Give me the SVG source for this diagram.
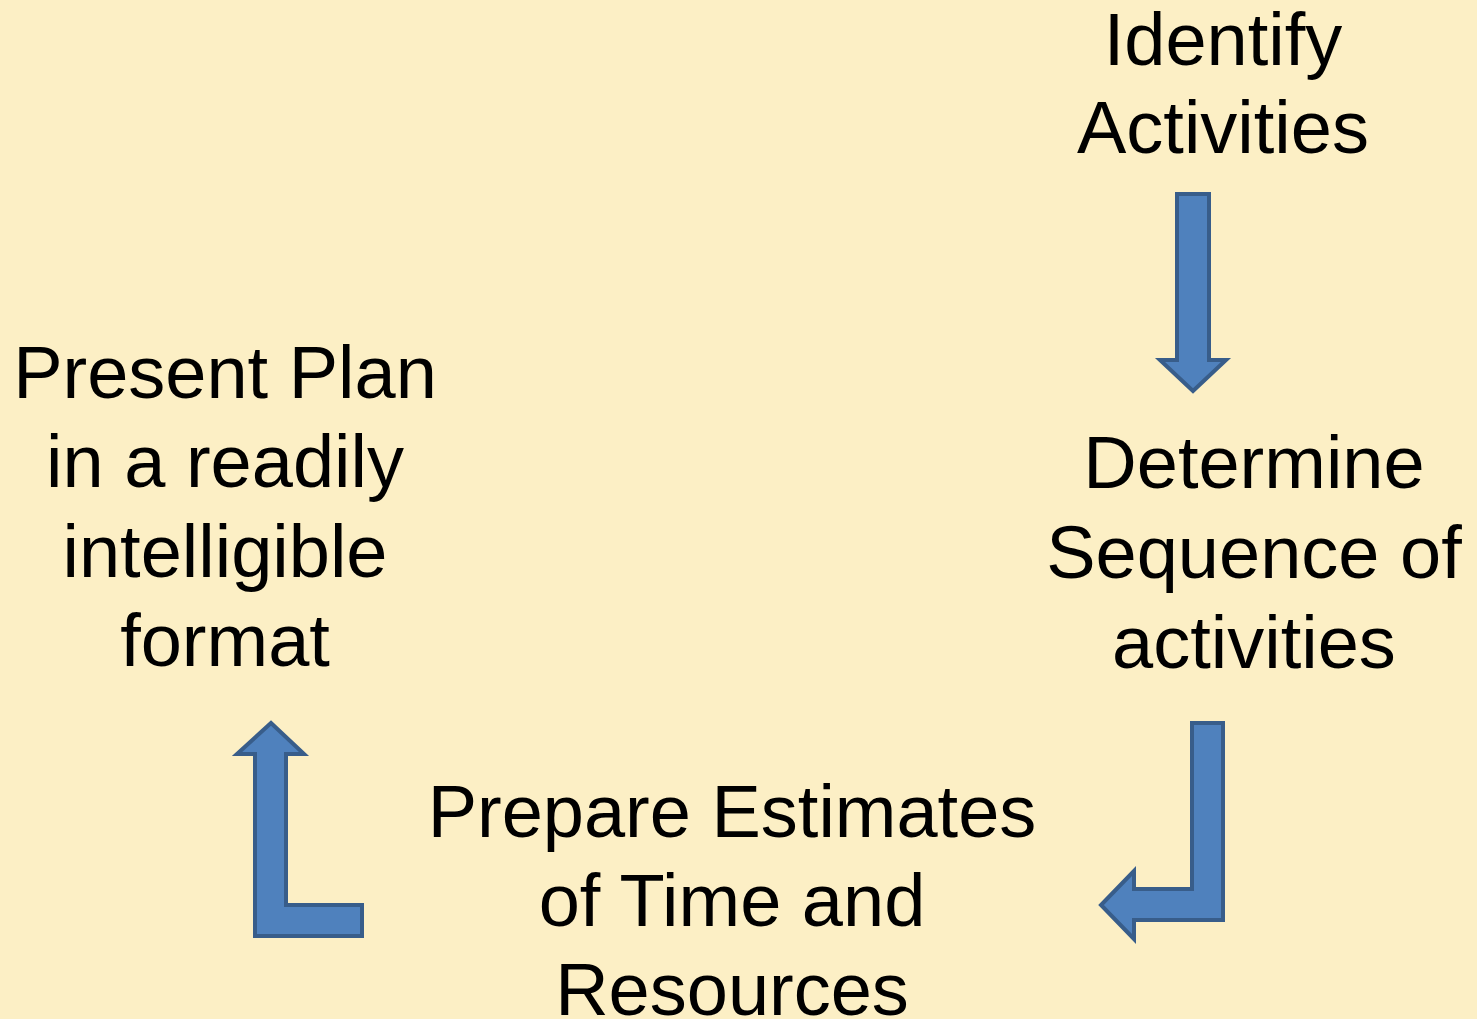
<svg xmlns="http://www.w3.org/2000/svg" width="1477" height="1019" viewBox="0 0 1477 1019">
  <style>
    .label { font-family: "Liberation Sans", Arial, sans-serif; font-size: 74px; fill: #000000; text-anchor: middle; }
    .flow { fill: #4F81BD; stroke: #385D8A; stroke-width: 4; stroke-linejoin: miter; }
  </style>
  <rect x="0" y="0" width="1477" height="1019" fill="#FCEFC5"/>

  <g id="identify-activities">
    <text class="label" x="1223" y="65">Identify</text>
    <text class="label" x="1223" y="153">Activities</text>
  </g>

  <g id="determine-sequence">
    <text class="label" x="1254" y="488">Determine</text>
    <text class="label" x="1254" y="578">Sequence of</text>
    <text class="label" x="1254" y="668">activities</text>
  </g>

  <g id="prepare-estimates">
    <text class="label" x="732" y="837">Prepare Estimates</text>
    <text class="label" x="732" y="926">of Time and</text>
    <text class="label" x="732" y="1015">Resources</text>
  </g>

  <g id="present-plan">
    <text class="label" x="225" y="398">Present Plan</text>
    <text class="label" x="225" y="487">in a readily</text>
    <text class="label" x="225" y="577">intelligible</text>
    <text class="label" x="225" y="666">format</text>
  </g>

  <g id="connectors">
    <!-- straight down arrow -->
    <path class="flow" d="M1177,194 L1209,194 L1209,360 L1226,360 L1193,391 L1160,360 L1177,360 Z"/>
    <!-- bent arrow: down then left -->
    <path class="flow" d="M1192,723 L1223,723 L1223,920 L1134,920 L1134,939 L1101,905 L1134,871 L1134,889 L1192,889 Z"/>
    <!-- bent arrow: left-bottom then up -->
    <path class="flow" d="M271,723 L304,754 L286,754 L286,905 L362,905 L362,936 L255,936 L255,754 L237,754 Z"/>
  </g>
</svg>
